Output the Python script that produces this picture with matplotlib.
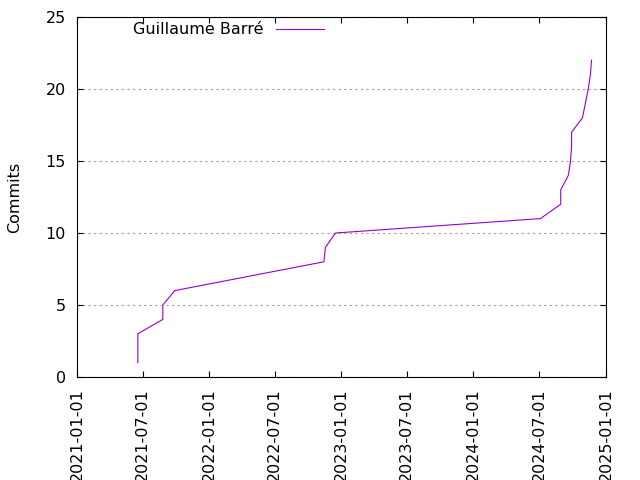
import matplotlib
matplotlib.use("Agg")
import matplotlib.pyplot as plt
import matplotlib.dates as mdates
import pandas as pd

author = "Guillaume Barré"
dates = ["2021-06-18", "2021-06-18", "2021-06-18", "2021-08-26", "2021-08-26",
         "2021-09-28", "2022-11-14", "2022-11-18", "2022-12-16", "2024-07-04",
         "2024-08-29", "2024-08-29", "2024-09-19", "2024-09-25", "2024-09-28",
         "2024-09-28", "2024-10-28", "2024-11-13", "2024-11-19", "2024-11-22"]
commits = [1, 2, 3, 4, 5, 6, 8, 9, 10, 11, 12, 13, 14, 15, 16, 17, 18, 20, 21, 22]
xticks = ["2021-01-01", "2021-07-01", "2022-01-01", "2022-07-01", "2023-01-01",
          "2023-07-01", "2024-01-01", "2024-07-01", "2025-01-01"]
yticks = [0, 5, 10, 15, 20, 25]

FS = 11.5
plt.rcParams['font.family'] = ['DejaVu Sans']
plt.rcParams['font.size'] = FS

fig = plt.figure(figsize=(6.4, 4.8), dpi=100)
ax = fig.add_axes([77/640, 1-377/480, (606-77)/640, (377-17)/480])

x = pd.to_datetime(dates)
ax.plot(x, commits, color="#9400D3", linewidth=0.8, label=author)

ax.set_xlim(pd.Timestamp(xticks[0]), pd.Timestamp(xticks[-1]))
ax.set_ylim(yticks[0], yticks[-1])
ax.set_xticks(pd.to_datetime(xticks))
ax.xaxis.set_major_formatter(mdates.DateFormatter("%Y-%m-%d"))
ax.set_yticks(yticks)
plt.setp(ax.get_xticklabels(), rotation=90)

ax.tick_params(direction='in', top=True, right=True, length=4, width=0.8,
               pad=8, labelsize=FS, colors='black')
for s in ax.spines.values():
    s.set_linewidth(0.8)

ax.yaxis.grid(True, linestyle=(0, (2, 3)), color='#a0a0a0', linewidth=0.8)
ax.set_ylabel("Commits", fontsize=FS)
ax.yaxis.set_label_coords(-(77-22)/529, 0.5)

leg = ax.legend(loc='center right', bbox_to_anchor=(324/640, 1-30/480),
                bbox_transform=fig.transFigure, frameon=False, markerfirst=False,
                handlelength=3.0, handletextpad=0.8, borderpad=0, borderaxespad=0,
                fontsize=FS)

fig.savefig("out.png", dpi=100)
